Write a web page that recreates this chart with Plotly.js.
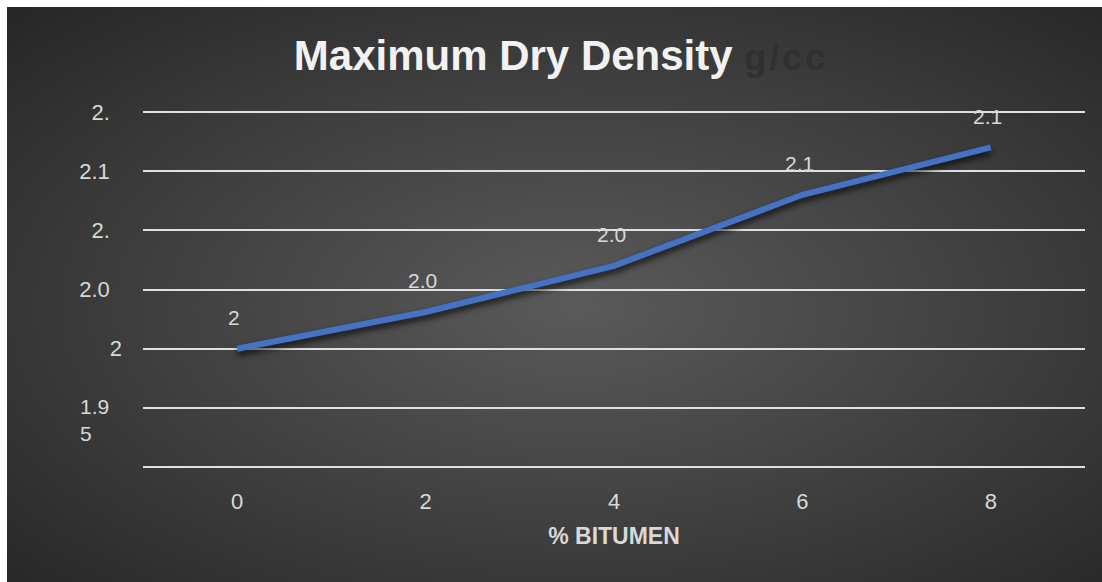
<!DOCTYPE html>
<html>
<head>
<meta charset="utf-8">
<script src="https://cdn.plot.ly/plotly-3.0.1.min.js"></script>
<style>
  html, body { margin: 0; padding: 0; background: #ffffff; width: 1102px; height: 582px; overflow: hidden; }
  #chart {
    position: absolute; left: 7px; top: 7px; width: 1095px; height: 575px;
    background: radial-gradient(ellipse farthest-corner at 52% 52%, #5a5a5a 0%, #3e3e3e 55%, #262626 100%);
  }
  #chart .js-line { filter: drop-shadow(0px 4px 3px rgba(0,0,0,0.75)); }
</style>
</head>
<body>
<div id="chart"></div>
<script>
// ---- data ----
const bitumen = [0, 2, 4, 6, 8];
const maxDryDensity = [2.0, 2.031, 2.070, 2.130, 2.170];
const pointLabels = ["2", "2.0", "2.0", "2.1", "2.1"];
const yTickVals = [1.9, 1.95, 2.0, 2.05, 2.1, 2.15, 2.2];
const yTickText = ["", "", "2", "2.0\u00a0\u00a0", "2.\u00a0\u00a0", "2.1\u00a0\u00a0", "2.\u00a0\u00a0"];
const wrappedTickValue = 1.95;
const wrappedTickText = "1.9<br>5";
const xTickVals = [0, 2, 4, 6, 8];
const xTickText = ["0", "2", "4", "6", "8"];

const textColor = '#d9d9d9';
const fontFam = '"Liberation Sans", Arial, sans-serif';

const trace = {
  x: bitumen,
  y: maxDryDensity,
  type: 'scatter',
  mode: 'lines',
  line: { color: '#4472C4', width: 6 },
  hoverinfo: 'x+y'
};

const annotations = bitumen.map((xv, i) => ({
  x: xv, y: maxDryDensity[i], xref: 'x', yref: 'y',
  text: pointLabels[i], showarrow: false,
  yshift: 31, xshift: -3,
  font: { family: fontFam, size: 21, color: textColor }
}));
annotations.push({
  x: -0.069, xref: 'paper', xanchor: 'left',
  y: wrappedTickValue, yref: 'y', yanchor: 'top', yshift: 15,
  text: wrappedTickText, showarrow: false, align: 'left',
  font: { family: fontFam, size: 21, color: textColor }
});

const layout = {
  width: 1095, height: 575,
  paper_bgcolor: 'rgba(0,0,0,0)',
  plot_bgcolor: 'rgba(0,0,0,0)',
  margin: { l: 136, r: 17, t: 99, b: 109 },
  showlegend: false,
  font: { family: fontFam, color: textColor },
  title: {
    text: '<b>Maximum Dry Density</b> <span style="color:#303030;font-size:36px;letter-spacing:3px"><b>g/cc</b></span>',
    font: { family: fontFam, size: 42, color: '#f2f2f2' },
    x: 0.506, xref: 'container', xanchor: 'center',
    y: 0.916, yref: 'container', yanchor: 'middle'
  },
  xaxis: {
    range: [-1, 9],
    tickvals: xTickVals, ticktext: xTickText,
    showgrid: false, zeroline: false, showline: false, ticks: '',
    ticklabelstandoff: 13,
    tickfont: { family: fontFam, size: 22, color: textColor },
    title: { text: '<b>% BITUMEN</b>', font: { family: fontFam, size: 23, color: textColor }, standoff: 14 }
  },
  yaxis: {
    range: [1.895, 2.205],
    tickvals: yTickVals, ticktext: yTickText,
    showgrid: true, gridcolor: '#e0e0e0', gridwidth: 2,
    zeroline: false, showline: false, ticks: '',
    ticklabelstandoff: 20,
    tickfont: { family: fontFam, size: 22, color: textColor }
  },
  annotations: annotations
};

Plotly.newPlot('chart', [trace], layout, { displayModeBar: false, staticPlot: true });
</script>
</body>
</html>
